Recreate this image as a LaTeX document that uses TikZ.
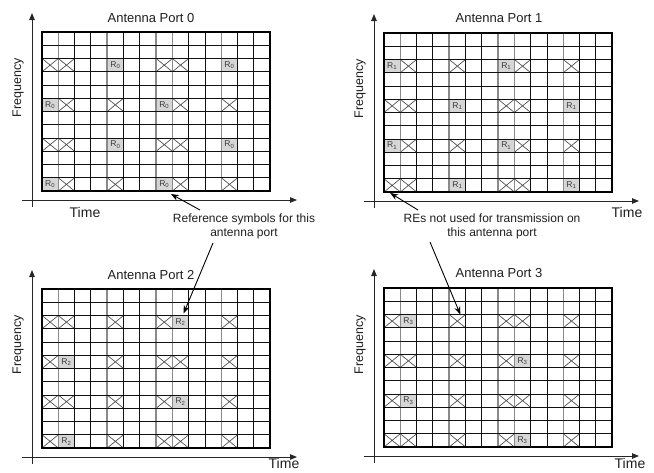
\documentclass[tikz,border=0pt]{standalone}
\usepackage{fontspec}
\setmainfont{Liberation Sans}
\usetikzlibrary{arrows.meta}
\definecolor{gridblack}{HTML}{111111}
\definecolor{gridgrey}{HTML}{8A8A8A}
\definecolor{rsfill}{HTML}{D6D6D6}
\definecolor{rstext}{HTML}{3A3A3A}
\definecolor{xcol}{HTML}{505050}
\definecolor{txt}{HTML}{1E1E1E}
\newcommand\cellW{16.3}
\newcommand\cellH{13.25}
\tikzset{
  cellbox/.style={minimum width=16.3pt,minimum height=13.25pt,inner sep=0pt,outer sep=0pt,draw=none},
  rcell/.style={cellbox,fill=rsfill,text=rstext,font=\fontsize{8.5}{9}\selectfont},
  xline/.style={draw=xcol,line width=0.7pt},
  gline/.style={draw=gridblack,line width=1pt},
  glinegrey/.style={draw=gridgrey,line width=1.5pt},
  border/.style={draw=black,line width=2.3pt},
  axis/.style={draw=black!85,line width=0.9pt,-{Triangle[length=7pt,width=5.5pt]}},
  arr/.style={draw=black,line width=0.9pt,-{Stealth[length=8pt,width=6pt]}},
  title/.style={font=\fontsize{13}{15}\selectfont,text=txt,inner sep=0pt},
  freq/.style={font=\fontsize{12.5}{15}\selectfont,text=txt,rotate=90,inner sep=0pt},
  timelbl/.style={font=\fontsize{14}{16}\selectfont,text=txt,inner sep=0pt},
  note/.style={font=\fontsize{12}{14}\selectfont,text=txt,align=center,inner sep=0pt}
}
\newcommand\Xc[3]{%
  \node[cellbox] (#1-#2-#3) at ({(#2+0.5)*\cellW},{(#3+0.5)*\cellH}) {};
  \draw[xline] (#1-#2-#3.north west) -- (#1-#2-#3.south east)
               (#1-#2-#3.north east) -- (#1-#2-#3.south west);}
\newcommand\Rc[4]{%
  \node[rcell] (#1-#2-#3) at ({(#2+0.5)*\cellW},{(#3+0.5)*\cellH}) {R\textsubscript{#4}};}
\newcommand\PortFrame{%
  \foreach \i in {2,3,5,6,9,10,12,13} \draw[gline] (\i*\cellW,0) -- (\i*\cellW,12*\cellH);
  \foreach \i in {1,4,7,8,11} \draw[glinegrey] (\i*\cellW,0) -- (\i*\cellW,12*\cellH);
  \foreach \j in {1,...,11} \draw[gline] (0,\j*\cellH) -- (14*\cellW,\j*\cellH);
  \draw[border] (0,0) rectangle (14*\cellW,12*\cellH);
  \draw[axis] (-10,175) -- (-10,-19);
  \draw[axis] (-20,168) -- (255,168);}
\begin{document}
\begin{tikzpicture}[x=1pt,y=-1pt]
\path[use as bounding box] (0,0) rectangle (654,472);
% ---------- Port 0
\begin{scope}[shift={(42,32)}]
  \foreach \c/\r in {4/2,11/2,0/5,7/5,4/8,11/8,0/11,7/11} \Rc{p0}{\c}{\r}{0};
  \foreach \c/\r in {0/2,1/2,7/2,8/2,1/5,4/5,8/5,11/5,0/8,1/8,7/8,8/8,1/11,4/11,8/11,11/11} \Xc{p0}{\c}{\r};
  \PortFrame
\end{scope}
% ---------- Port 1
\begin{scope}[shift={(384,33)}]
  \foreach \c/\r in {0/2,7/2,4/5,11/5,0/8,7/8,4/11,11/11} \Rc{p1}{\c}{\r}{1};
  \foreach \c/\r in {1/2,4/2,8/2,11/2,0/5,1/5,7/5,8/5,1/8,4/8,8/8,11/8,0/11,1/11,7/11,8/11} \Xc{p1}{\c}{\r};
  \PortFrame
\end{scope}
% ---------- Port 2
\begin{scope}[shift={(42,289)}]
  \foreach \c/\r in {8/2,1/5,8/8,1/11} \Rc{p2}{\c}{\r}{2};
  \foreach \c/\r in {0/2,1/2,4/2,7/2,11/2,0/5,4/5,7/5,8/5,11/5,0/8,1/8,4/8,7/8,11/8,0/11,4/11,7/11,8/11,11/11} \Xc{p2}{\c}{\r};
  \PortFrame
\end{scope}
% ---------- Port 3
\begin{scope}[shift={(384,288)}]
  \foreach \c/\r in {1/2,8/5,1/8,8/11} \Rc{p3}{\c}{\r}{3};
  \foreach \c/\r in {0/2,4/2,7/2,8/2,11/2,0/5,1/5,4/5,7/5,11/5,0/8,4/8,7/8,8/8,11/8,0/11,1/11,4/11,7/11,11/11} \Xc{p3}{\c}{\r};
  \PortFrame
\end{scope}
% ---------- labels
\node[title] (t0) at (151,18) {Antenna Port 0};
\node[title] (t1) at (499,18) {Antenna Port 1};
\node[title] (t2) at (151,275) {Antenna Port 2};
\node[title] (t3) at (499,273) {Antenna Port 3};
\node[freq] (f0) at (18,88) {Frequency};
\node[freq] (f1) at (360,89) {Frequency};
\node[freq] (f2) at (18,345) {Frequency};
\node[freq] (f3) at (360,345) {Frequency};
\node[timelbl] (tm0) at (85,212) {Time};
\node[timelbl] (tm1) at (627,212) {Time};
\node[timelbl] (tm2) at (284,463) {Time};
\node[timelbl] (tm3) at (630,463) {Time};
\node[note] (ref) at (244,226) {Reference symbols for this\\antenna port};
\node[note] (notused) at (492,226) {REs not used for transmission on\\this antenna port};
% ---------- arrows
\coordinate (a1) at (200,210);
\coordinate (a2) at (213,243);
\coordinate (a3) at (418,210);
\coordinate (a4) at (430,242);
\draw[arr] (a1) -- ([xshift=-1.5pt,yshift=-3pt]p0-7-11.south east);
\draw[arr] (a2) -- ([xshift=3pt,yshift=2pt]p2-8-2.north);
\draw[arr] (a3) -- ([xshift=-2pt,yshift=-1pt]p1-0-11.south);
\draw[arr] (a4) -- ([xshift=3pt]p3-4-2.north);
\end{tikzpicture}
\end{document}
